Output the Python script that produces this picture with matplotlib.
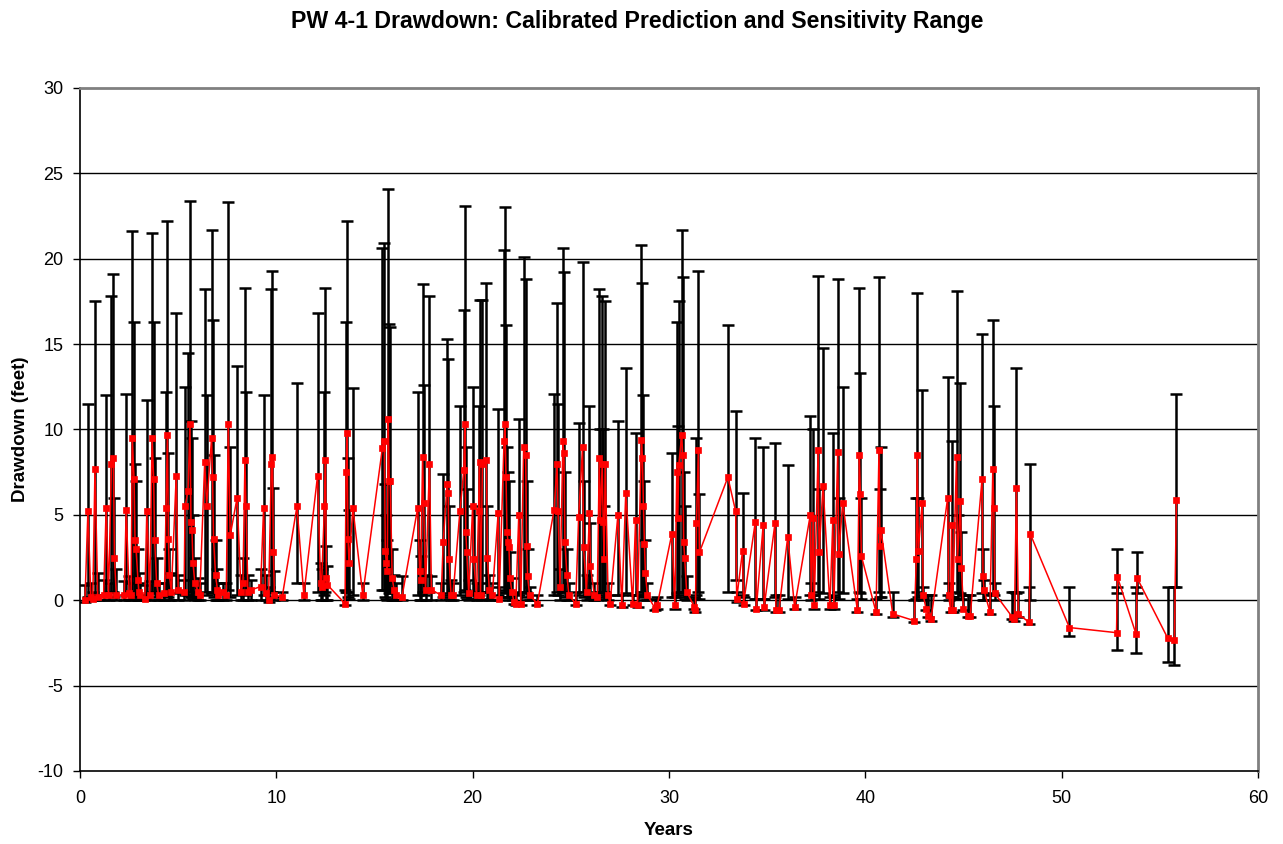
import matplotlib
matplotlib.use('Agg')
import matplotlib.pyplot as plt
import numpy as np

plt.rcParams['font.family'] = ['Liberation Sans', 'DejaVu Sans']
plt.rcParams['axes.unicode_minus'] = False

# (year, predicted drawdown, low end of sensitivity range, high end)
years = [0.25, 0.4, 0.55, 0.65, 0.76, 0.9, 1.2, 1.33, 1.45, 1.6, 1.7, 1.75, 1.85,
         2.25, 2.35, 2.5, 2.6, 2.66, 2.75, 2.8, 2.85, 2.95, 3.0, 3.05,
         3.3, 3.4, 3.55, 3.67, 3.75, 3.8, 3.9, 4.0,
         4.3, 4.38, 4.45, 4.5, 4.55, 4.65, 4.9, 5.0,
         5.3, 5.35, 5.5, 5.6, 5.65, 5.7, 5.75, 5.85, 6.0, 6.1,
         6.35, 6.45, 6.7, 6.75, 6.8, 6.9, 7.0, 7.05,
         7.3, 7.45, 7.55, 7.65, 8.0, 8.2, 8.3, 8.4, 8.45, 8.55, 8.7,
         9.2, 9.35, 9.45, 9.6, 9.75, 9.8, 9.85, 9.9,
         10.3, 11.05, 11.4, 12.1, 12.25, 12.3, 12.45, 12.5, 12.55, 12.6,
         13.5, 13.55, 13.6, 13.65, 13.7, 13.9, 14.4,
         15.4, 15.5, 15.55, 15.6, 15.65, 15.7, 15.75, 15.8, 15.9, 16.0, 16.1, 16.4,
         17.2, 17.3, 17.35, 17.45, 17.5, 17.6, 17.8, 17.9,
         18.4, 18.5, 18.7, 18.75, 18.8, 18.9, 19.0,
         19.35, 19.55, 19.6, 19.65, 19.7, 19.8, 20.0, 20.05, 20.2,
         20.3, 20.35, 20.4, 20.5, 20.7, 20.75, 20.85, 21.0,
         21.3, 21.35, 21.6, 21.65, 21.7, 21.75, 21.8, 21.85, 21.9, 22.0, 22.1, 22.2,
         22.35, 22.45, 22.6, 22.7, 22.75, 22.8, 22.9, 23.3,
         24.15, 24.3, 24.35, 24.45, 24.6, 24.65, 24.7, 24.8, 24.9,
         25.25, 25.4, 25.6, 25.65, 25.8, 25.95, 26.0, 26.2, 26.35,
         26.45, 26.5, 26.6, 26.65, 26.7, 26.75, 26.9, 27.0,
         27.4, 27.6, 27.8, 28.15, 28.3, 28.4,
         28.6, 28.65, 28.7, 28.75, 28.8, 28.9, 29.3, 29.4,
         30.15, 30.3, 30.4, 30.45, 30.5, 30.65, 30.7, 30.75, 30.8, 30.9,
         31.3, 31.35, 31.4, 31.5, 31.55,
         33.0, 33.4, 33.45, 33.75, 33.8, 34.4, 34.45, 34.8, 34.85,
         35.4, 35.45, 35.6, 36.05, 36.4,
         37.2, 37.25, 37.35, 37.4, 37.6, 37.65, 37.85,
         38.2, 38.35, 38.4, 38.6, 38.65, 38.85,
         39.6, 39.7, 39.75, 39.8, 40.55, 40.7, 40.75, 40.8, 41.4,
         42.5, 42.6, 42.65, 42.7, 42.9, 42.95, 43.1, 43.2, 43.35,
         44.2, 44.25, 44.35, 44.4, 44.45, 44.65, 44.7, 44.85, 44.9, 45.0, 45.25, 45.35,
         45.95, 46.0, 46.05, 46.35, 46.5, 46.55, 46.6,
         47.5, 47.6, 47.7, 47.8, 48.35, 48.4,
         50.4, 52.8, 52.85, 53.8, 53.85, 55.4, 55.75, 55.85]
pred = [0.0, 5.2, 0.2, 0.1, 7.7, 0.2, 0.3, 5.4, 0.3, 8.0, 8.3, 2.5, 0.3,
        0.3, 5.3, 0.4, 0.3, 9.5, 7.1, 3.5, 3.0, 1.2, 0.5, 0.3,
        0.1, 5.2, 0.3, 9.5, 7.1, 3.5, 1.0, 0.3,
        0.4, 5.4, 9.7, 3.6, 1.5, 0.5, 7.3, 0.6,
        0.5, 5.5, 6.4, 10.3, 4.6, 4.1, 2.2, 1.0, 0.5, 0.3,
        8.1, 5.5, 9.5, 7.2, 3.6, 1.5, 0.6, 0.3,
        0.5, 0.3, 10.3, 3.8, 6.0, 0.5, 1.0, 8.2, 5.5, 0.5, 0.6,
        0.8, 5.4, 0.4, 0.0, 8.0, 8.4, 2.8, 0.3,
        0.2, 5.5, 0.3, 7.3, 1.0, 0.8, 5.5, 8.2, 1.3, 0.9,
        -0.2, 7.5, 9.8, 3.6, 2.2, 5.4, 0.3,
        8.9, 9.3, 2.9, 2.2, 1.7, 10.6, 7.0, 7.0, 1.3, 0.6, 0.3, 0.2,
        5.4, 1.7, 1.2, 8.4, 5.7, 0.6, 8.0, 0.6,
        0.3, 3.4, 6.8, 6.3, 2.4, 0.3, 0.3,
        5.2, 7.6, 10.3, 4.0, 2.8, 0.4, 5.5, 2.4, 0.3,
        5.2, 8.1, 0.3, 8.0, 8.2, 2.5, 0.6, 0.3,
        5.1, 0.1, 9.3, 10.3, 7.2, 4.0, 3.4, 3.1, 1.3, 0.5, -0.1, -0.2,
        5.0, -0.2, 9.0, 8.5, 3.2, 1.4, 0.3, -0.2,
        5.3, 8.0, 5.2, 0.8, 9.3, 8.6, 3.4, 1.5, 0.3,
        -0.2, 4.9, 9.0, 3.1, 0.5, 5.1, 2.0, 0.3, 0.2,
        8.3, 4.7, 8.0, 4.6, 2.4, 8.0, 0.3, -0.2,
        5.0, -0.3, 6.3, -0.2, 4.7, -0.3,
        9.4, 8.3, 5.5, 3.3, 1.6, 0.3, -0.5, -0.3,
        3.9, -0.3, 7.5, 4.8, 7.9, 9.7, 8.5, 3.4, 2.5, 0.5,
        -0.4, -0.6, 4.5, 8.8, 2.8,
        7.2, 5.2, 0.1, 2.9, -0.2, 4.6, -0.5, 4.4, -0.4,
        4.5, -0.6, -0.6, 3.7, -0.4,
        5.0, 0.3, 4.8, -0.3, 8.8, 2.8, 6.7,
        -0.3, 4.7, -0.3, 8.7, 2.7, 5.7,
        -0.6, 8.5, 6.2, 2.6, -0.7, 8.8, 3.2, 4.1, -0.8,
        -1.2, 2.4, 8.5, 2.9, 5.7, 0.3, -0.5, -0.9, -1.1,
        6.0, 0.3, -0.6, 4.4, -0.6, 8.4, 2.4, 5.8, 1.9, -0.5, -0.9, -0.9,
        7.1, 1.4, 0.6, -0.7, 7.7, 5.4, 0.4,
        -1.0, -1.1, 6.6, -0.8, -1.3, 3.9,
        -1.6, -1.9, 1.35, -2.0, 1.3, -2.2, -2.3, 5.85]
low = [-0.1, 0.2, 0.0, 0.0, 0.3, 0.0, 0.0, 0.3, 0.0, 0.5, 0.5, 0.2, 0.0,
       0.0, 0.3, 0.0, 0.0, 0.5, 0.4, 0.2, 0.2, 0.0, 0.0, 0.0,
       0.0, 0.3, 0.0, 0.5, 0.4, 0.2, 0.0, 0.0,
       0.0, 0.3, 0.5, 0.2, 0.0, 0.0, 0.4, 0.0,
       0.0, 0.3, 0.3, 0.5, 0.2, 0.2, 0.1, 0.0, 0.0, 0.0,
       0.5, 0.3, 0.5, 0.4, 0.2, 0.0, 0.0, 0.0,
       0.0, 0.0, 0.6, 0.2, 0.3, 0.0, 0.0, 0.4, 0.3, 0.0, 0.0,
       0.0, 0.3, 0.0, -0.1, 0.5, 0.5, 0.2, 0.0,
       0.0, 1.0, 0.0, 0.5, 0.0, 0.0, 0.3, 0.5, 0.0, 0.0,
       -0.3, 0.5, 0.5, 0.2, 0.1, 0.3, 0.0,
       0.6, 0.6, 0.2, 0.1, 0.0, 0.6, 0.4, 0.4, 0.0, 0.0, 0.0, 0.0,
       0.3, 0.0, 0.0, 0.5, 0.3, 0.0, 0.5, 0.0,
       0.0, 0.2, 0.4, 0.3, 0.1, 0.0, 0.0,
       0.3, 0.5, 0.6, 0.2, 0.1, 0.0, 0.3, 0.1, 0.0,
       0.3, 0.5, 0.0, 0.5, 0.5, 0.1, 0.0, 0.0,
       0.3, 0.0, 0.5, 0.6, 0.4, 0.2, 0.2, 0.2, 0.0, 0.0, -0.2, -0.3,
       0.3, -0.3, 0.5, 0.5, 0.2, 0.0, 0.0, -0.3,
       0.3, 0.5, 0.3, 0.0, 0.5, 0.5, 0.2, 0.0, 0.0,
       -0.3, 0.3, 0.5, 0.2, 0.0, 0.3, 0.1, 0.0, 0.0,
       0.5, 0.3, 0.5, 0.2, 0.1, 0.5, 0.0, -0.3,
       0.3, -0.4, 0.4, -0.3, 0.3, -0.4,
       0.5, 0.5, 0.3, 0.2, 0.0, 0.0, -0.6, -0.5,
       0.2, -0.5, 0.4, 0.3, 0.5, 0.5, 0.5, 0.2, 0.1, 0.0,
       -0.5, -0.7, 0.3, 0.5, 0.1,
       0.5, 1.2, -0.1, 0.3, -0.3, 0.1, -0.6, 0.1, -0.6,
       0.2, -0.7, -0.7, 0.1, -0.5,
       0.3, 0.0, 0.3, -0.5, 0.5, 0.1, 0.4,
       -0.5, 0.3, -0.5, 0.5, 0.1, 0.4,
       -0.7, 0.5, 0.4, 0.1, -0.8, 0.5, 0.2, 0.2, -1.0,
       -1.3, 0.1, 0.5, 0.2, 0.3, 0.0, -0.6, -1.0, -1.2,
       0.3, 0.0, -0.7, 0.2, -0.7, 0.5, 0.1, 0.4, 0.1, -0.6, -1.0, -1.0,
       0.4, 0.0, 0.0, -0.8, 0.4, 0.3, 0.0,
       -1.1, -1.2, 0.4, -1.0, -1.4, 0.0,
       -2.1, -2.9, 0.4, -3.1, 0.4, -3.6, -3.8, 0.8]
high = [0.9, 11.5, 1.0, 0.5, 17.5, 1.6, 1.2, 12.0, 1.0, 17.8, 19.1, 6.0, 1.8,
        1.1, 12.1, 1.4, 1.0, 21.6, 16.3, 8.0, 7.0, 3.0, 1.6, 1.0,
        0.9, 11.7, 1.1, 21.5, 16.3, 8.3, 2.5, 1.0,
        1.0, 12.2, 22.2, 8.6, 3.0, 1.6, 16.8, 1.5,
        1.2, 12.5, 14.5, 23.4, 10.5, 9.5, 5.0, 2.5, 1.3, 1.0,
        18.2, 12.0, 21.7, 16.4, 8.5, 3.5, 1.8, 1.0,
        1.0, 1.0, 23.3, 9.0, 13.7, 1.5, 2.5, 18.3, 12.2, 1.5, 1.2,
        1.8, 12.0, 1.5, 0.8, 18.2, 19.3, 6.6, 1.7,
        0.5, 12.7, 1.0, 16.8, 2.2, 1.8, 12.2, 18.3, 3.2, 2.0,
        0.6, 16.3, 22.2, 8.3, 5.3, 12.4, 1.0,
        20.6, 20.9, 6.8, 5.0, 3.5, 24.1, 16.2, 16.0, 3.0, 1.5, 1.0, 1.4,
        12.2, 3.5, 2.6, 18.5, 12.6, 1.5, 17.8, 1.4,
        1.0, 7.4, 15.3, 14.1, 5.5, 1.2, 1.0,
        11.4, 17.0, 23.1, 9.0, 6.5, 1.2, 12.5, 5.5, 1.0,
        11.4, 17.6, 1.0, 17.6, 18.6, 5.5, 1.5, 1.0,
        11.2, 0.8, 20.5, 23.0, 16.1, 9.0, 7.5, 7.0, 2.8, 1.3, 0.5, 0.4,
        10.6, 0.4, 20.1, 18.8, 7.0, 3.0, 0.8, 0.3,
        12.1, 17.4, 11.5, 1.8, 20.6, 19.2, 7.5, 3.0, 1.0,
        0.5, 10.4, 19.8, 7.0, 1.5, 11.4, 4.5, 1.0, 0.5,
        18.2, 10.0, 17.8, 10.0, 5.5, 17.5, 1.0, 0.3,
        10.5, 0.3, 13.6, 0.3, 9.8, 0.3,
        20.8, 18.6, 12.0, 7.0, 3.5, 1.0, 0.1, 0.2,
        8.6, 0.2, 16.3, 10.2, 17.5, 21.7, 18.9, 7.5, 5.5, 1.4,
        0.2, 0.1, 9.5, 19.3, 6.2,
        16.1, 11.1, 0.5, 6.3, 0.2, 9.5, 0.1, 9.0, 0.1,
        9.2, 0.3, 0.3, 7.9, 0.2,
        10.8, 1.0, 10.0, 0.3, 19.0, 6.5, 14.8,
        0.2, 9.8, 0.2, 18.8, 6.0, 12.5,
        0.1, 18.3, 13.3, 6.0, 0.1, 18.9, 6.5, 9.0, 0.5,
        0.0, 6.0, 18.0, 6.0, 12.3, 0.8, 0.3, 0.3, 0.3,
        13.1, 1.0, 0.2, 9.3, 0.2, 18.1, 5.0, 12.7, 4.0, 0.3, 0.3, 0.3,
        15.6, 3.0, 1.2, 0.3, 16.4, 11.4, 1.0,
        0.5, 0.5, 13.6, 0.5, 0.8, 8.0,
        0.8, 0.8, 3.0, 0.8, 2.8, 0.8, 0.8, 12.1]

x = np.array(years)
y = np.array(pred)
yerr = [y - np.array(low), np.array(high) - y]

fig = plt.figure(figsize=(12.83, 8.44), dpi=100)
ax = fig.add_axes([0.0624, 0.0865, 0.918, 0.8093])

# horizontal gridlines
for g in range(-5, 30, 5):
    ax.axhline(g, color='black', lw=1.0, zorder=0)

ax.errorbar(x, y, yerr=yerr, fmt='none', ecolor='black', elinewidth=1.8,
            capsize=4, capthick=1.8, zorder=2)
ax.plot(x, y, color='red', lw=1.1, marker='s', markersize=3.8,
        markeredgecolor='red', markeredgewidth=0.5, zorder=3)

ax.set_xlim(0, 60)
ax.set_ylim(-10, 30)
ax.set_xticks(range(0, 61, 10))
ax.set_yticks(range(-10, 31, 5))
ax.tick_params(direction='out', length=5, width=1, labelsize=13, color='black')
ax.tick_params(axis='x', pad=9)
ax.tick_params(axis='y', pad=7)

for side in ['top', 'right']:
    ax.spines[side].set_color('#808080')
    ax.spines[side].set_linewidth(2)
for side in ['left', 'bottom']:
    ax.spines[side].set_color('black')
    ax.spines[side].set_linewidth(1.2)

ax.set_xlabel('Years', fontsize=13.5, fontweight='bold')
ax.xaxis.set_label_coords(0.5, -0.075)
ax.set_ylabel('Drawdown (feet)', fontsize=13.5, fontweight='bold')
ax.yaxis.set_label_coords(-0.043, 0.5)
fig.text(0.497, 0.975, 'PW 4-1 Drawdown: Calibrated Prediction and Sensitivity Range',
         fontsize=16.7, fontweight='bold', ha='center', va='center')

fig.savefig('out.png', dpi=100)
